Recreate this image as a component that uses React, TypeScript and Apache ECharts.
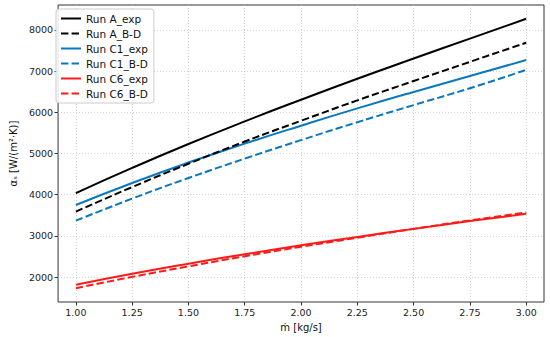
import React, { useEffect, useRef } from "react";
import * as echarts from "echarts";

const massFlow = [1.0, 1.25, 1.5, 1.75, 2.0, 2.25, 2.5, 2.75, 3.0];
const runAExp = [4040, 4650, 5230, 5780, 6305, 6815, 7305, 7790, 8270];
const runABD = [3590, 4185, 4750, 5290, 5795, 6290, 6760, 7225, 7690];
const runC1Exp = [3750, 4285, 4780, 5240, 5675, 6095, 6495, 6880, 7270];
const runC1BD = [3370, 3905, 4405, 4875, 5325, 5760, 6175, 6585, 7030];
const runC6Exp = [1815, 2080, 2325, 2555, 2770, 2975, 3170, 3360, 3535];
const runC6BD = [1730, 2005, 2260, 2505, 2735, 2955, 3170, 3375, 3570];

const xTicks = [1.0, 1.25, 1.5, 1.75, 2.0, 2.25, 2.5, 2.75, 3.0];
const yTicks = [2000, 3000, 4000, 5000, 6000, 7000, 8000];

const seriesNames = ["Run A_exp", "Run A_B-D", "Run C1_exp", "Run C1_B-D", "Run C6_exp", "Run C6_B-D"];
const seriesData = [runAExp, runABD, runC1Exp, runC1BD, runC6Exp, runC6BD];
const seriesColors = ["#000000", "#000000", "#0a78be", "#0a78be", "#ff1a1a", "#ff1a1a"];
const seriesDash = ["solid", "dashed", "solid", "dashed", "solid", "dashed"];

const FONT = "DejaVu Sans";

export default function App() {
  const ref = useRef<HTMLDivElement>(null);
  useEffect(() => {
    if (!ref.current) return;
    const chart = echarts.init(ref.current, undefined, { renderer: "svg" });
    const series = seriesNames.map((name, i) => ({
      name,
      type: "line",
      data: massFlow.map((m, j) => [m, seriesData[i][j]]),
      showSymbol: false,
      symbol: "none",
      smooth: true,
      lineStyle: { color: seriesColors[i], width: 2, type: seriesDash[i] === "dashed" ? [7.4, 3.2] : "solid" },
      itemStyle: { color: seriesColors[i] },
      z: 10 - i,
    }));
    chart.setOption({
      animation: false,
      backgroundColor: "#ffffff",
      textStyle: { fontFamily: FONT },
      grid: {
        left: 52,
        right: 6,
        top: 5,
        bottom: 34,
        show: true,
        borderColor: "#333333",
        borderWidth: 1,
        backgroundColor: "transparent",
      },
      legend: {
        orient: "vertical",
        left: 56,
        top: 9,
        itemWidth: 20,
        itemHeight: 10,
        itemGap: 4,
        padding: [4, 6, 4, 4],
        borderColor: "#cccccc",
        borderWidth: 1,
        borderRadius: 3,
        backgroundColor: "rgba(255,255,255,0.85)",
        itemStyle: { opacity: 0 },
        textStyle: { fontFamily: FONT, fontSize: 10.5, lineHeight: 11, color: "#111" },
        data: seriesNames,
      },
      xAxis: {
        type: "value",
        min: 0.921,
        max: 3.079,
        name: "ṁ [kg/s]",
        nameLocation: "middle",
        nameGap: 20,
        nameTextStyle: { fontFamily: FONT, fontSize: 10, color: "#111" },
        axisLine: { show: false },
        axisTick: { show: true, customValues: xTicks, length: 3.5, inside: false, lineStyle: { color: "#333" } },
        axisLabel: {
          customValues: xTicks,
          fontFamily: FONT,
          fontSize: 9.5,
          color: "#222",
          margin: 5,
          formatter: (v: number) => v.toFixed(2),
        },
        splitLine: { show: true, lineStyle: { color: "#c8c8c8", type: [1, 2], width: 0.8 } },
      },
      yAxis: {
        type: "value",
        min: 1395,
        max: 8605,
        name: "αₛ [W/(m²·K)]",
        nameLocation: "middle",
        nameGap: 40,
        nameTextStyle: { fontFamily: FONT, fontSize: 10, color: "#111" },
        axisLine: { show: false },
        axisTick: { show: true, customValues: yTicks, length: 3.5, inside: false, lineStyle: { color: "#333" } },
        axisLabel: {
          customValues: yTicks,
          fontFamily: FONT,
          fontSize: 9.5,
          color: "#222",
          margin: 5,
          formatter: (v: number) => String(v),
        },
        splitLine: { show: true, lineStyle: { color: "#c8c8c8", type: [1, 2], width: 0.8 } },
      },
      series,
    });
    return () => chart.dispose();
  }, []);
  return (
    <div style={{ position: "fixed", left: 0, top: 0, width: 550, height: 337, background: "#fff" }}>
      <div ref={ref} style={{ width: 550, height: 337 }} />
    </div>
  );
}
